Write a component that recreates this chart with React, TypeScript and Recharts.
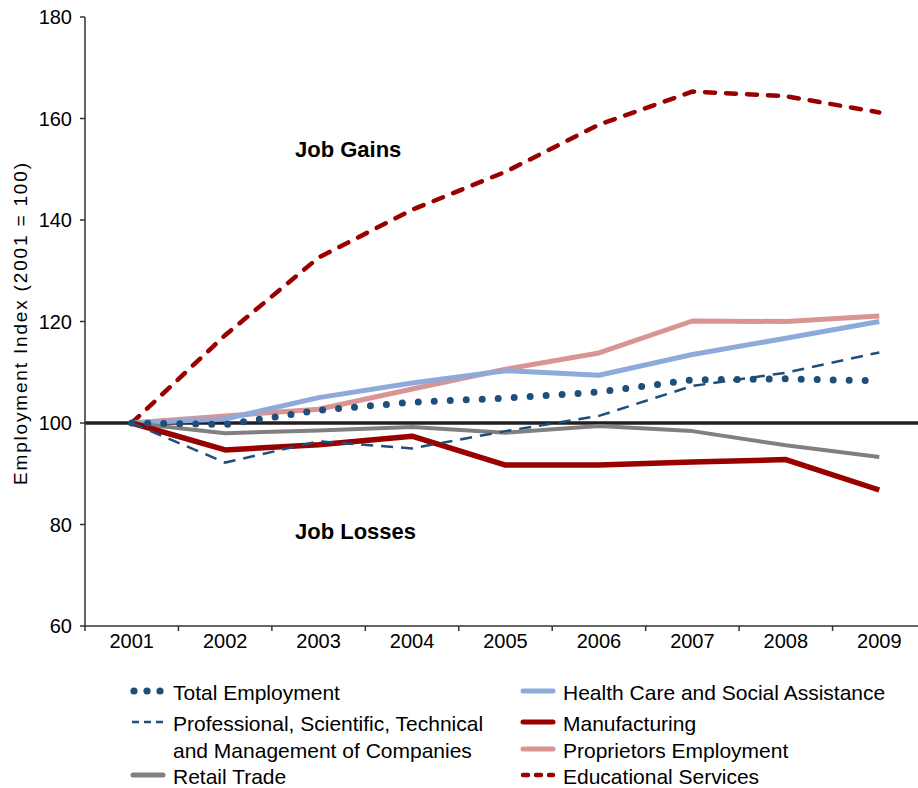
import { LineChart, Line, XAxis, YAxis, ReferenceLine, Label } from 'recharts'

const years = ['2001', '2002', '2003', '2004', '2005', '2006', '2007', '2008', '2009']
const totalEmployment = [100, 99.7, 102.5, 104.1, 104.9, 106.1, 108.5, 108.7, 108.3]
const professional = [100, 92.2, 96.4, 95.0, 98.4, 101.4, 107.3, 109.9, 113.9]
const retailTrade = [100, 98.0, 98.5, 99.2, 98.1, 99.4, 98.4, 95.6, 93.3]
const healthCare = [100, 100.8, 105.0, 107.9, 110.3, 109.4, 113.5, 116.7, 120.0]
const manufacturing = [100, 94.7, 95.7, 97.4, 91.7, 91.7, 92.3, 92.8, 86.8]
const proprietors = [100, 101.4, 102.7, 106.7, 110.6, 113.8, 120.1, 120.0, 121.1]
const educational = [100, 117.3, 132.6, 142.0, 149.5, 158.8, 165.3, 164.4, 161.2]
const yTicks = [60, 80, 100, 120, 140, 160, 180]

const data = years.map((year, i) => ({
  x: i + 0.5,
  year,
  total: totalEmployment[i],
  professional: professional[i],
  retail: retailTrade[i],
  health: healthCare[i],
  manufacturing: manufacturing[i],
  proprietors: proprietors[i],
  educational: educational[i],
}))

const CHART_W = 930
const CHART_H = 660
const MARGIN = { top: 17, right: 4, bottom: 4, left: 0 }
const Y_AXIS_W = 85
const BAND = (CHART_W - MARGIN.right - Y_AXIS_W) / years.length

const FONT = "'Liberation Sans', Arial, Helvetica, sans-serif"
const NAVY = '#1f4e79'
const DARK_RED = '#990000'

function YearTick({ x, y, payload }: any) {
  const label = years[payload.value]
  if (!label) return <g />
  return (
    <text x={x + BAND / 2} y={y} dy="0.71em" textAnchor="middle" fontSize={20} fill="#000" fontFamily={FONT}>
      {label}
    </text>
  )
}

function YLabel() {
  return (
    <text
      x={27}
      y={324}
      transform="rotate(-90 27 324)"
      textAnchor="middle"
      fontSize={19}
      fill="#000"
      fontFamily={FONT}
      textLength={322}
      lengthAdjust="spacing"
    >
      Employment Index (2001 = 100)
    </text>
  )
}

type LegendItem = { label: string[]; left: number; top: number; icon: 'dots' | 'dash' | 'line' | 'bigdash'; color: string }

const legendItems: LegendItem[] = [
  { label: ['Total Employment'], left: 130, top: 679, icon: 'dots', color: NAVY },
  { label: ['Professional, Scientific, Technical', 'and Management of Companies'], left: 130, top: 710, icon: 'dash', color: NAVY },
  { label: ['Retail Trade'], left: 130, top: 763, icon: 'line', color: '#808080' },
  { label: ['Health Care and Social Assistance'], left: 520, top: 679, icon: 'line', color: '#8eaadb' },
  { label: ['Manufacturing'], left: 520, top: 710, icon: 'line', color: DARK_RED },
  { label: ['Proprietors Employment'], left: 520, top: 737, icon: 'line', color: '#d99594' },
  { label: ['Educational Services'], left: 520, top: 763, icon: 'bigdash', color: DARK_RED },
]

function LegendIcon({ icon, color }: { icon: LegendItem['icon']; color: string }) {
  return (
    <svg width={40} height={12} style={{ position: 'absolute', left: 0, top: 6 }}>
      {icon === 'dots' && [4, 17, 30].map((cx) => <circle key={cx} cx={cx} cy={6} r={3.6} fill={color} />)}
      {icon === 'dash' && <line x1={2} y1={6} x2={34} y2={6} stroke={color} strokeWidth={2.5} strokeDasharray="7 5" />}
      {icon === 'line' && <line x1={3} y1={6} x2={33} y2={6} stroke={color} strokeWidth={5} strokeLinecap="round" />}
      {icon === 'bigdash' && (
        <line x1={3} y1={6} x2={33} y2={6} stroke={color} strokeWidth={4.5} strokeLinecap="round" strokeDasharray="5 8" />
      )}
    </svg>
  )
}

export default function App() {
  return (
    <div
      style={{
        position: 'absolute',
        left: 0,
        top: 0,
        width: 918,
        height: 788,
        overflow: 'hidden',
        background: '#fff',
        fontFamily: FONT,
      }}
    >
      <LineChart width={CHART_W} height={CHART_H} data={data} margin={MARGIN}>
        <XAxis
          dataKey="x"
          type="number"
          domain={[0, years.length]}
          ticks={years.map((_, i) => i).concat(years.length)}
          interval={0}
          allowDataOverflow
          tick={<YearTick />}
          tickSize={5}
          tickMargin={3}
          height={30}
          stroke="#333"
          strokeWidth={1.5}
        />
        <YAxis
          domain={[60, 180]}
          ticks={yTicks}
          interval={0}
          width={Y_AXIS_W}
          tickSize={5}
          tickMargin={8}
          tick={{ fontSize: 20, fill: '#000', fontFamily: FONT }}
          stroke="#333"
          strokeWidth={1.5}
        >
          <Label content={<YLabel />} />
        </YAxis>
        <ReferenceLine y={100} stroke="#231f20" strokeWidth={3.5} />
        <Line
          dataKey="educational"
          stroke={DARK_RED}
          strokeWidth={4.5}
          strokeDasharray="10 11"
          strokeLinecap="round"
          dot={false}
          activeDot={false}
          isAnimationActive={false}
        />
        <Line dataKey="proprietors" stroke="#d99594" strokeWidth={5} strokeLinejoin="round" dot={false} activeDot={false} isAnimationActive={false} />
        <Line dataKey="health" stroke="#8eaadb" strokeWidth={5} strokeLinejoin="round" dot={false} activeDot={false} isAnimationActive={false} />
        <Line dataKey="retail" stroke="#808080" strokeWidth={4} strokeLinejoin="round" dot={false} activeDot={false} isAnimationActive={false} />
        <Line dataKey="manufacturing" stroke={DARK_RED} strokeWidth={5.5} strokeLinejoin="round" dot={false} activeDot={false} isAnimationActive={false} />
        <Line
          dataKey="total"
          stroke={NAVY}
          strokeWidth={7}
          strokeDasharray="0 16"
          strokeLinecap="round"
          dot={false}
          activeDot={false}
          isAnimationActive={false}
        />
        <Line
          dataKey="professional"
          stroke={NAVY}
          strokeWidth={2.5}
          strokeDasharray="12 8"
          dot={false}
          activeDot={false}
          isAnimationActive={false}
        />
      </LineChart>

      <div style={{ position: 'absolute', left: 295, top: 138, fontSize: 22, lineHeight: '24px', fontWeight: 'bold' }}>Job Gains</div>
      <div style={{ position: 'absolute', left: 295, top: 520, fontSize: 22, lineHeight: '24px', fontWeight: 'bold' }}>Job Losses</div>

      {legendItems.map((item) => (
        <div key={item.label[0]} style={{ position: 'absolute', left: item.left, top: item.top, paddingLeft: 43, fontSize: 21, lineHeight: '27px', whiteSpace: 'nowrap' }}>
          <LegendIcon icon={item.icon} color={item.color} />
          {item.label.map((t) => (
            <div key={t}>{t}</div>
          ))}
        </div>
      ))}
    </div>
  )
}
